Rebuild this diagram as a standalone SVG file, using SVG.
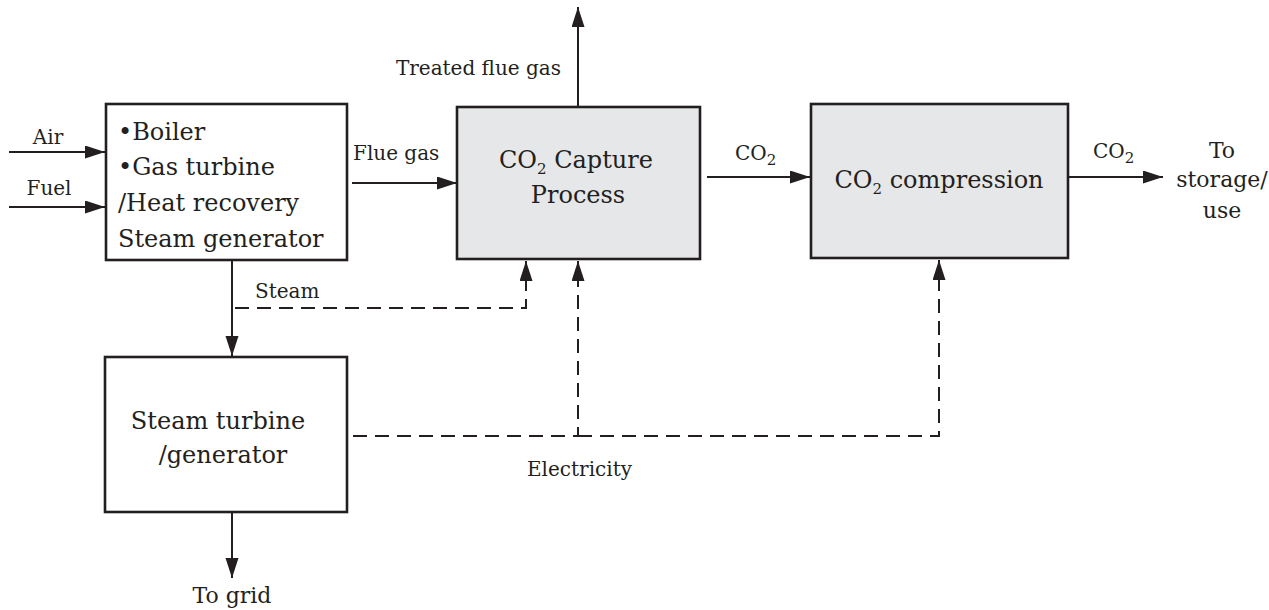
<svg xmlns="http://www.w3.org/2000/svg" width="1269" height="610" viewBox="0 0 1269 610">
<style>
text{font-family:"DejaVu Serif","Liberation Serif",serif;fill:#231f20}
.big{font-size:24px}
.lbl{font-size:20px}
.dest{font-size:22px}
.sub{font-size:15px}
.box{fill:#ffffff;stroke:#231f20;stroke-width:2.6}
.gray{fill:#e6e7e9;stroke:#231f20;stroke-width:2.6}
.ln{fill:none;stroke:#231f20;stroke-width:2}
.dash{fill:none;stroke:#231f20;stroke-width:2;stroke-dasharray:14 8}
</style>
<defs>
<marker id="ah" markerUnits="userSpaceOnUse" markerWidth="22" markerHeight="14" refX="20" refY="6.5" orient="auto">
<path d="M0,0 L20,6.5 L0,13 Z" fill="#231f20"/>
</marker>
</defs>
<rect width="1269" height="610" fill="#ffffff"/>
<g id="connectors">
<line class="ln" x1="9" y1="152" x2="105" y2="152" marker-end="url(#ah)"/>
<line class="ln" x1="9" y1="207" x2="105" y2="207" marker-end="url(#ah)"/>
<line class="ln" x1="352" y1="183" x2="457" y2="183" marker-end="url(#ah)"/>
<line class="ln" x1="578" y1="106" x2="578" y2="7" marker-end="url(#ah)"/>
<line class="ln" x1="707" y1="177" x2="810" y2="177" marker-end="url(#ah)"/>
<line class="ln" x1="1068" y1="177" x2="1163" y2="177" marker-end="url(#ah)"/>
<line class="ln" x1="232" y1="261" x2="232" y2="356" marker-end="url(#ah)"/>
<line class="ln" x1="232" y1="513" x2="232" y2="578" marker-end="url(#ah)"/>
<path class="dash" d="M235 308 H526 V261" marker-end="url(#ah)"/>
<path class="dash" d="M353 436 H578 V261" marker-end="url(#ah)"/>
<path class="dash" d="M578 436 H939 V260" marker-end="url(#ah)"/>
<text class="lbl" x="48" y="144" text-anchor="middle">Air</text>
<text class="lbl" x="49" y="195" text-anchor="middle">Fuel</text>
<text class="lbl" x="353" y="160">Flue gas</text>
<text class="lbl" x="561" y="75" text-anchor="end">Treated flue gas</text>
<text class="lbl" x="735" y="160">CO<tspan class="sub" dy="5">2</tspan></text>
<text class="lbl" x="1093" y="158">CO<tspan class="sub" dy="5">2</tspan></text>
<text class="dest" x="1222" y="158" text-anchor="middle">To</text>
<text class="dest" x="1222" y="187" text-anchor="middle">storage/</text>
<text class="dest" x="1222" y="218" text-anchor="middle">use</text>
<text class="lbl" x="255" y="298">Steam</text>
<text class="lbl" x="527" y="476">Electricity</text>
<text class="dest" x="232" y="603" text-anchor="middle">To grid</text>
</g>
<g id="boiler">
<rect class="box" x="106" y="104" width="241" height="156"/>
<text class="big" x="118" y="140">•Boiler</text>
<text class="big" x="118" y="175">•Gas turbine</text>
<text class="big" x="118" y="211">/Heat recovery</text>
<text class="big" x="118" y="247">Steam generator</text>
</g>
<g id="capture">
<rect class="gray" x="457" y="107" width="243" height="152"/>
<text class="big" x="576" y="168" text-anchor="middle">CO<tspan class="sub" font-size="17" dy="6">2</tspan><tspan dy="-6"> Capture</tspan></text>
<text class="big" x="578" y="203" text-anchor="middle">Process</text>
</g>
<g id="compression">
<rect class="gray" x="811" y="104" width="257" height="154"/>
<text class="big" x="939" y="188" text-anchor="middle">CO<tspan class="sub" font-size="17" dy="6">2</tspan><tspan dy="-6"> compression</tspan></text>
</g>
<g id="turbine">
<rect class="box" x="105" y="357" width="242" height="155"/>
<text class="big" x="218" y="429" text-anchor="middle">Steam turbine</text>
<text class="big" x="223" y="463" text-anchor="middle">/generator</text>
</g>
</svg>
